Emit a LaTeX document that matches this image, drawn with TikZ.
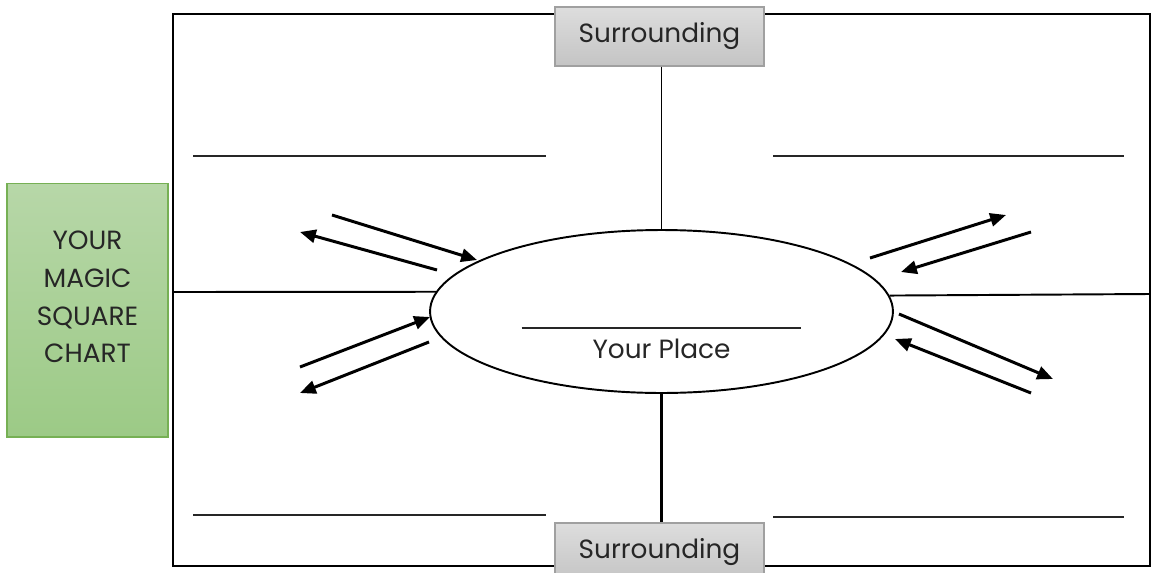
\documentclass[tikz,border=0pt]{standalone}
\usepackage{fontspec}
\setmainfont{Poppins}
\usepackage{tikz}
\usetikzlibrary{shapes.geometric, arrows.meta, positioning}
\definecolor{textdark}{RGB}{38,38,38}
\definecolor{surrtop}{RGB}{221,221,221}
\definecolor{surrbot}{RGB}{196,196,196}
\definecolor{surrline}{RGB}{160,160,160}
\definecolor{magictop}{RGB}{183,215,168}
\definecolor{magicbot}{RGB}{156,202,134}
\definecolor{magicline}{RGB}{118,176,84}
\tikzset{
  surround/.style={rectangle, draw=surrline, line width=0.6pt,
    top color=surrtop, bottom color=surrbot, minimum width=4.18cm,
    minimum height=1.18cm, text=textdark, font=\fontsize{15}{18}\selectfont},
  magicbox/.style={rectangle, draw=magicline, line width=0.6pt,
    top color=magictop, bottom color=magicbot, minimum width=3.22cm,
    minimum height=5.08cm, align=center, text=textdark, text depth=15pt,
    font=\fontsize{15}{21.5}\selectfont},
  placeshape/.style={ellipse, draw, line width=1.1pt, fill=white,
    minimum width=9.26cm, minimum height=3.26cm, inner sep=0pt},
  arrow/.style={-{Triangle[length=9pt, width=7.5pt]}, line width=1.7pt},
  frameline/.style={line width=1.1pt},
  blank/.style={line width=0.6pt, textdark},
}

\begin{document}
\begin{tikzpicture}[x=0.02cm, y=-0.02cm]
  \useasboundingbox (0,0) rectangle (1154,572);

  % outer frame
  \draw[frameline] (173,14) rectangle (1150,566);

  \node[surround] (top) at (659.5,36.5) {Surrounding};
  \node[placeshape] (place) at (661.5,311.5) {};

  % cross lines
  \draw[frameline] (place.north |- top.south) -- (place.north);
  \draw[frameline] (173,292) -- (place.175);
  \draw[frameline] (place.4.4) -- (1150,294);

  \node[surround] (bot) at (659.5,552.5) {Surrounding};
  \draw[line width=2pt] (place.south) -- (place.south |- bot.north);

  \node[magicbox] (magic) at (87.5,310) {YOUR\\MAGIC\\SQUARE\\CHART};

  % place label
  \draw[blank] ([xshift=-2.8cm, yshift=-0.33cm]place.center) -- ++(5.6cm,0)
    coordinate[midway] (placeline);
  \node[text=textdark, font=\fontsize{15}{18}\selectfont, below=3pt of placeline] (yourplace) {Your Place};

  % blanks
  \draw[blank] (193,156) -- (546,156);
  \draw[blank] (773,156) -- (1124,156);
  \draw[blank] (193,515) -- (546,515);
  \draw[blank] (773,517) -- (1124,517);

  % arrows in and out
  \coordinate (la1) at (332,215);  \coordinate (la2) at (477,260);
  \coordinate (lb1) at (437,270);  \coordinate (lb2) at (300,232);
  \coordinate (lc1) at (300,367);  \coordinate (lc2) at (430,317);
  \coordinate (ld1) at (429,342);  \coordinate (ld2) at (300,393);
  \coordinate (ra1) at (870,258);  \coordinate (ra2) at (1006,215);
  \coordinate (rb1) at (1031,232); \coordinate (rb2) at (901,272);
  \coordinate (rc1) at (899,314);  \coordinate (rc2) at (1053,379);
  \coordinate (rd1) at (1031,393); \coordinate (rd2) at (895,339);

  \draw[arrow] (la1) -- (la2);
  \draw[arrow] (lb1) -- (lb2);
  \draw[arrow] (lc1) -- (lc2);
  \draw[arrow] (ld1) -- (ld2);
  \draw[arrow] (ra1) -- (ra2);
  \draw[arrow] (rb1) -- (rb2);
  \draw[arrow] (rc1) -- (rc2);
  \draw[arrow] (rd1) -- (rd2);
\end{tikzpicture}
\end{document}
